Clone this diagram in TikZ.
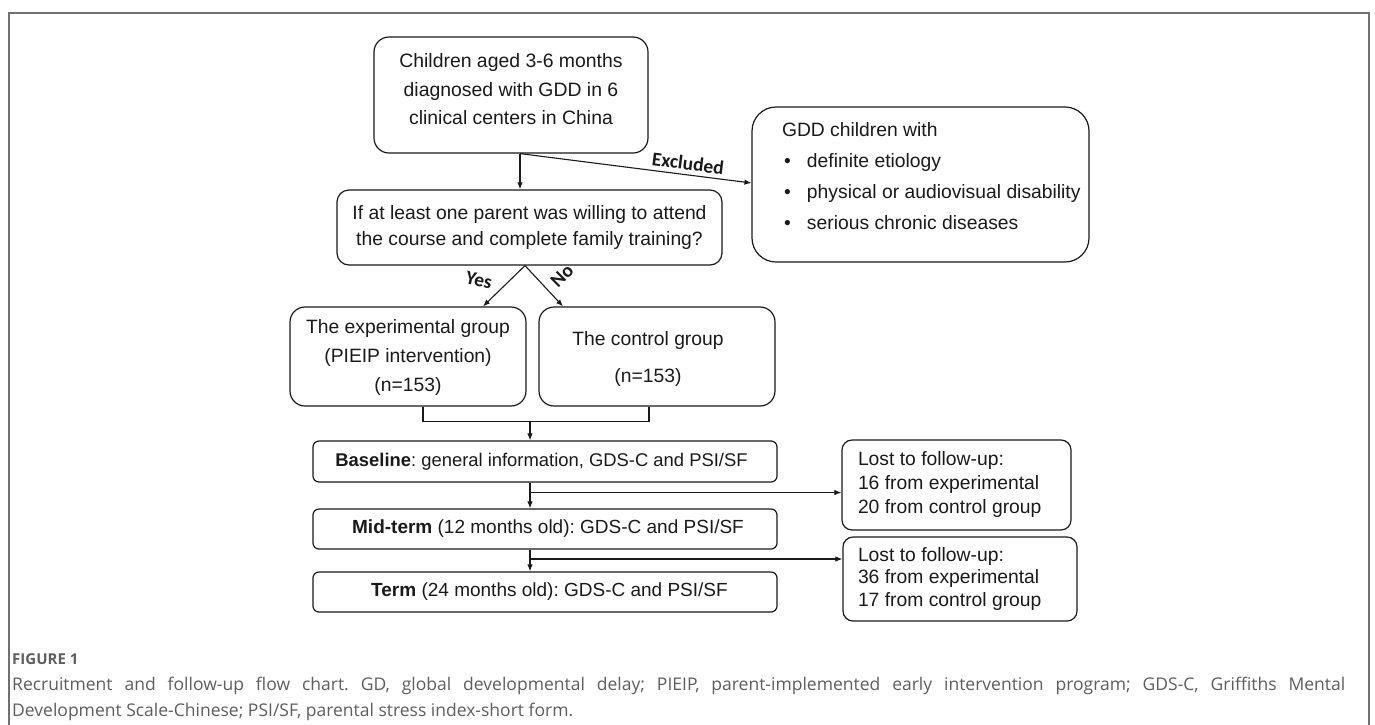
\documentclass[tikz,border=0pt]{standalone}
\usepackage{fontspec}
\setmainfont{Liberation Sans}
\newfontfamily\cali{Carlito}
\newfontfamily\capf{Open Sans}
\usetikzlibrary{arrows.meta}
\definecolor{frm}{HTML}{707070}
\definecolor{ink}{HTML}{1A1A1A}
\definecolor{capc}{HTML}{5E5E5E}
\newcommand\tb[1]{\begin{tabular}{@{}c@{}}#1\end{tabular}}
\newcommand\tl[1]{\begin{tabular}{@{}l@{}}#1\end{tabular}}
\frenchspacing
\begin{document}
\begin{tikzpicture}[x=1pt,y=-1pt,
  box/.style={draw=ink, line width=1.2pt, inner sep=0pt, text=ink},
  arr/.style={draw=ink, line width=1.1pt, -{Latex[length=7pt,width=5.5pt]}},
  ln/.style={draw=ink, line width=1.1pt},
  lbl/.style={font=\cali\bfseries\fontsize{19.5}{24}\selectfont, text=ink, inner sep=0pt},
  lo/.style={box, rounded corners=6pt, minimum width=464pt},
  captxt/.style={anchor=base west, inner sep=0pt, text=capc},
]
\useasboundingbox (0,0) rectangle (1375,724);
\fill[white] (0,0) rectangle (1375,724);
\draw[frm, line width=2pt] (8.5,730) -- (8.5,12.5) -- (1368.5,12.5) -- (1368.5,730);

\node[box, rounded corners=15pt, minimum width=274pt, minimum height=116pt,
  font=\fontsize{19.4}{28.5}\selectfont] (start) at (511,95)
  {\tb{Children aged 3-6 months\\ diagnosed with GDD in 6\\ clinical centers in China\\[9pt]}};

\node[box, rounded corners=12pt, minimum width=385pt, minimum height=75pt,
  font=\fontsize{19.3}{26}\selectfont] (dec) at (529.5,227.5)
  {\tb{If at least one parent was willing to attend\\ the course and complete family training?}};

\node[box, rounded corners=24pt, minimum width=337pt, minimum height=155pt,
  font=\fontsize{19.3}{31}\selectfont] (excl) at (920.5,184.5)
  {\makebox[277pt][l]{\tl{GDD children with\\
   \makebox[25pt][l]{\hspace{2pt}•}definite etiology\\
   \makebox[25pt][l]{\hspace{2pt}•}physical or audiovisual disability\\
   \makebox[25pt][l]{\hspace{2pt}•}serious chronic diseases\\[15.5pt]}}};

\node[box, rounded corners=15pt, minimum width=236pt, minimum height=99pt,
  font=\fontsize{19.3}{29}\selectfont] (exp) at (408,356.5)
  {\tb{The experimental group\\ (PIEIP intervention)\\ (n=153)}};

\node[box, rounded corners=15pt, minimum width=236pt, minimum height=99pt,
  font=\fontsize{19.3}{37}\selectfont] (ctrl) at (657,356.5)
  {\begin{tabular}{@{}c@{\hspace{18pt}}}The control group\\ (n=153)\end{tabular}};

\node[lo, minimum height=41pt, font=\fontsize{18.4}{22}\selectfont] (base) at (545,461.5)
  {\textbf{Baseline}: general information, GDS-C and PSI/SF\hspace*{7pt}};
\node[lo, minimum height=40pt, font=\fontsize{19}{22}\selectfont] (mid) at (545,529)
  {\hspace*{6pt}\textbf{Mid-term} (12 months old): GDS-C and PSI/SF};
\node[lo, minimum height=40pt, font=\fontsize{19}{22}\selectfont] (term) at (545,592)
  {\hspace*{9pt}\textbf{Term} (24 months old): GDS-C and PSI/SF};

\node[box, rounded corners=10pt, minimum width=229pt, minimum height=90pt,
  font=\fontsize{19.3}{24}\selectfont] (lost1) at (956.5,485)
  {\makebox[197pt][l]{\tl{Lost to follow-up:\\ 16 from experimental\\ 20 from control group}}};
\node[box, rounded corners=10pt, minimum width=234pt, minimum height=84pt,
  font=\fontsize{19.3}{22.5}\selectfont] (lost2) at (960,579)
  {\makebox[204pt][l]{\tl{Lost to follow-up:\\ 36 from experimental\\ 17 from control group}}};

% connectors
\coordinate (s0) at ([xshift=9pt]start.south);
\draw[arr] (s0) -- (s0 |- dec.north);
\draw[arr] (s0) -- node[lbl, pos=0.72, above=4pt, sloped] (exl) {Excluded} ([yshift=1.5pt]excl.west);

\coordinate (s1) at ([xshift=-4.5pt]dec.south);
\draw[arr] (s1) -- ([xshift=75pt]exp.north);
\draw[arr] (s1) -- ([xshift=-94pt]ctrl.north);
\node[lbl, rotate=-12] (yes) at (479,280) {Yes};
\node[lbl, rotate=45] (no) at (562,276) {No};

\draw[ln] ([xshift=15pt]exp.south) -- ++(0,15) -| ([xshift=-8pt]ctrl.south);
\coordinate (jn) at (530,421);
\draw[arr] (jn) -- (jn |- base.north);

\coordinate (b0) at ([xshift=-15pt]base.south);
\draw[arr] (b0) -- (b0 |- mid.north);
\coordinate (b1) at (530,492.5);
\draw[arr] (b1) -- (b1 -| lost1.west);
\coordinate (m0) at (mid.south -| b0);
\draw[arr] (m0) -- (m0 |- term.north);
\coordinate (m1) at (530,559);
\draw[arr] (m1) -- (m1 -| lost2.west);

% caption
\node[captxt, font=\capf\bfseries\fontsize{15}{17}\selectfont] (figno) at (12,664) {FIGURE 1};
\node[captxt, font=\capf\fontsize{17.5}{25}\selectfont] (cap1) at (12,690)
  {\makebox[1333pt][s]{Recruitment and follow-up flow chart. GD, global developmental delay; PIEIP, parent-implemented early intervention program; GDS-C, Griffiths Mental}};
\node[captxt, font=\capf\fontsize{17.5}{25}\selectfont] (cap2) at (12,716)
  {Development Scale-Chinese; PSI/SF, parental stress index-short form.};
\end{tikzpicture}
\end{document}
